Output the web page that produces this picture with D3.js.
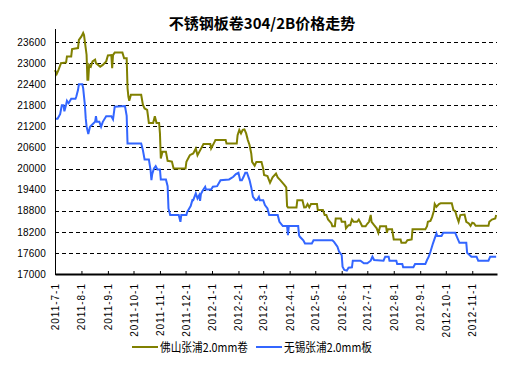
<!DOCTYPE html>
<html>
<head>
<meta charset="utf-8">
<script src="https://cdn.jsdelivr.net/npm/d3@7"></script>
<style>
  body { margin: 0; background: #fff; }
  svg { display: block; }
  text { font-family: "Liberation Sans", Arial, "Noto Sans CJK SC", sans-serif; fill: #000; }
  .cjk { font-family: "Noto Sans CJK SC", "Liberation Sans", sans-serif; }
</style>
</head>
<body>
<svg width="512" height="366"></svg>
<script>
'use strict';

const chartTitle = '不锈钢板卷304/2B价格走势';
const seriesNames = ['佛山张浦2.0mm卷', '无锡张浦2.0mm板'];
const seriesColors = ['#808000', '#3366ff'];

const yTicks = [17000, 17600, 18200, 18800, 19400, 20000, 20600, 21200, 21800, 22400, 23000, 23600];
const xTicks = [
  '2011-07-01', '2011-08-01', '2011-09-01', '2011-10-01', '2011-11-01', '2011-12-01',
  '2012-01-01', '2012-02-01', '2012-03-01', '2012-04-01', '2012-05-01', '2012-06-01',
  '2012-07-01', '2012-08-01', '2012-09-01', '2012-10-01', '2012-11-01'
];

// 佛山张浦2.0mm卷
const foshan = [
  ['2011-07-01', 22800], ['2011-07-03', 22690], ['2011-07-05', 22800], ['2011-07-08', 23000],
  ['2011-07-14', 23020], ['2011-07-15', 23190], ['2011-07-20', 23190], ['2011-07-21', 23400],
  ['2011-07-28', 23430], ['2011-07-29', 23660], ['2011-08-01', 23760], ['2011-08-03', 23860],
  ['2011-08-04', 23800], ['2011-08-07', 23240], ['2011-08-08', 22525], ['2011-08-09', 22525],
  ['2011-08-10', 22950], ['2011-08-12', 22900], ['2011-08-14', 23050], ['2011-08-17', 23100],
  ['2011-08-18', 23000], ['2011-08-23', 22900], ['2011-08-26', 22950], ['2011-08-30', 23050],
  ['2011-09-01', 23220], ['2011-09-05', 23230], ['2011-09-06', 22860], ['2011-09-07', 23230],
  ['2011-09-09', 23300], ['2011-09-18', 23300], ['2011-09-20', 23140], ['2011-09-23', 23140],
  ['2011-09-24', 22290], ['2011-09-25', 22050], ['2011-09-26', 21930], ['2011-09-28', 22100],
  ['2011-10-10', 22100], ['2011-10-12', 21815], ['2011-10-14', 21710], ['2011-10-17', 21670],
  ['2011-10-18', 21490], ['2011-10-19', 21300], ['2011-10-24', 21300], ['2011-10-26', 21490],
  ['2011-10-28', 21300], ['2011-10-31', 21300], ['2011-11-01', 21000], ['2011-11-02', 20290],
  ['2011-11-04', 20480], ['2011-11-08', 20480], ['2011-11-10', 20220], ['2011-11-15', 20200],
  ['2011-11-17', 20000], ['2011-12-01', 20000], ['2011-12-02', 20195], ['2011-12-06', 20380],
  ['2011-12-10', 20430], ['2011-12-13', 20570], ['2011-12-15', 20380], ['2011-12-19', 20560],
  ['2011-12-22', 20700], ['2011-12-30', 20700], ['2011-12-31', 20570], ['2012-01-04', 20760],
  ['2012-01-05', 20810], ['2012-01-17', 20810], ['2012-01-18', 20715], ['2012-01-30', 20715],
  ['2012-01-31', 20950], ['2012-02-02', 21100], ['2012-02-04', 21000], ['2012-02-06', 21100],
  ['2012-02-08', 21115], ['2012-02-10', 21000], ['2012-02-12', 20810], ['2012-02-14', 20670],
  ['2012-02-16', 20430], ['2012-02-17', 20190], ['2012-02-20', 20080], ['2012-02-22', 20190],
  ['2012-02-28', 20190], ['2012-03-01', 20000], ['2012-03-02', 19815], ['2012-03-06', 19785],
  ['2012-03-09', 19595], ['2012-03-12', 19750], ['2012-03-16', 19860], ['2012-03-18', 19750],
  ['2012-03-21', 19670], ['2012-03-26', 19530], ['2012-03-28', 19465], ['2012-03-29', 18930],
  ['2012-03-30', 18895], ['2012-04-09', 18895], ['2012-04-10', 19100], ['2012-04-16', 19100],
  ['2012-04-18', 18895], ['2012-04-20', 18900], ['2012-04-22', 18990], ['2012-04-24', 18895],
  ['2012-04-26', 18990], ['2012-05-03', 18990], ['2012-05-04', 18820], ['2012-05-10', 18820],
  ['2012-05-12', 18680], ['2012-05-14', 18680], ['2012-05-16', 18550], ['2012-05-20', 18440],
  ['2012-05-21', 18360], ['2012-05-24', 18360], ['2012-05-25', 18580], ['2012-05-31', 18580],
  ['2012-06-01', 18485], ['2012-06-05', 18485], ['2012-06-06', 18300], ['2012-06-09', 18390],
  ['2012-06-11', 18390], ['2012-06-13', 18550], ['2012-06-15', 18485], ['2012-06-19', 18485],
  ['2012-06-21', 18550], ['2012-06-23', 18460], ['2012-06-25', 18360], ['2012-06-29', 18360],
  ['2012-07-01', 18430], ['2012-07-03', 18485], ['2012-07-05', 18680], ['2012-07-06', 18485],
  ['2012-07-09', 18390], ['2012-07-12', 18300], ['2012-07-14', 18170], ['2012-07-16', 18360],
  ['2012-07-23', 18360], ['2012-07-24', 18170], ['2012-07-25', 18270], ['2012-07-30', 18270],
  ['2012-08-01', 17985], ['2012-08-09', 17985], ['2012-08-10', 17890], ['2012-08-15', 17890],
  ['2012-08-17', 17960], ['2012-08-22', 17985], ['2012-08-23', 18270], ['2012-09-07', 18270],
  ['2012-09-09', 18360], ['2012-09-10', 18485], ['2012-09-13', 18510], ['2012-09-15', 18625],
  ['2012-09-17', 18795], ['2012-09-18', 18990], ['2012-09-20', 18910], ['2012-09-23', 18990],
  ['2012-09-25', 19010], ['2012-10-08', 19010], ['2012-10-10', 18815], ['2012-10-12', 18795],
  ['2012-10-14', 18620], ['2012-10-16', 18485], ['2012-10-18', 18676], ['2012-10-23', 18690],
  ['2012-10-25', 18485], ['2012-10-28', 18440], ['2012-10-30', 18370], ['2012-11-01', 18460],
  ['2012-11-03', 18440], ['2012-11-05', 18370], ['2012-11-20', 18370], ['2012-11-21', 18485],
  ['2012-11-24', 18550], ['2012-11-28', 18580], ['2012-11-29', 18680]
];

// 无锡张浦2.0mm板
const wuxi = [
  ['2011-07-01', 21415], ['2011-07-04', 21415], ['2011-07-07', 21550], ['2011-07-09', 21800],
  ['2011-07-11', 21800], ['2011-07-12', 21630], ['2011-07-14', 21815], ['2011-07-15', 21930],
  ['2011-07-17', 21860], ['2011-07-18', 21900], ['2011-07-20', 21985], ['2011-07-25', 21985],
  ['2011-07-26', 22050], ['2011-07-28', 22240], ['2011-07-29', 22400], ['2011-08-02', 22400],
  ['2011-08-03', 22290], ['2011-08-05', 21815], ['2011-08-06', 21435], ['2011-08-07', 21200],
  ['2011-08-09', 20980], ['2011-08-11', 21190], ['2011-08-17', 21330], ['2011-08-18', 21490],
  ['2011-08-19', 21330], ['2011-08-22', 21330], ['2011-08-24', 21190], ['2011-08-26', 21330],
  ['2011-08-30', 21490], ['2011-09-05', 21490], ['2011-09-07', 21400], ['2011-09-09', 21760],
  ['2011-09-21', 21780], ['2011-09-23', 21500], ['2011-09-24', 20715], ['2011-10-10', 20715],
  ['2011-10-12', 20525], ['2011-10-14', 20260], ['2011-10-19', 20260], ['2011-10-21', 19956],
  ['2011-10-22', 19672], ['2011-10-23', 19850], ['2011-10-25', 20004], ['2011-10-27', 20070],
  ['2011-10-29', 19974], ['2011-11-01', 19974], ['2011-11-02', 19690], ['2011-11-08', 19690],
  ['2011-11-10', 19500], ['2011-11-11', 18866], ['2011-11-13', 18676], ['2011-11-23', 18676],
  ['2011-11-25', 18485], ['2011-11-26', 18676], ['2011-12-02', 18676], ['2011-12-03', 18770],
  ['2011-12-07', 18932], ['2011-12-09', 19102], ['2011-12-10', 19100], ['2011-12-13', 19293],
  ['2011-12-15', 19150], ['2011-12-17', 19245], ['2011-12-18', 19083], ['2011-12-19', 19273],
  ['2011-12-21', 19370], ['2011-12-24', 19482], ['2011-12-25', 19406], ['2011-12-31', 19406],
  ['2012-01-02', 19482], ['2012-01-07', 19500], ['2012-01-11', 19671], ['2012-01-21', 19690],
  ['2012-01-26', 19766], ['2012-01-29', 19842], ['2012-02-01', 19880], ['2012-02-03', 19671],
  ['2012-02-05', 19671], ['2012-02-07', 19766], ['2012-02-09', 19880], ['2012-02-11', 19880],
  ['2012-02-14', 19671], ['2012-02-16', 19464], ['2012-02-18', 19196], ['2012-02-21', 19102],
  ['2012-02-23', 19110], ['2012-02-25', 19196], ['2012-02-26', 19102], ['2012-03-01', 19102],
  ['2012-03-03', 18960], ['2012-03-06', 18866], ['2012-03-08', 18676], ['2012-03-18', 18676],
  ['2012-03-20', 18485], ['2012-03-24', 18363], ['2012-03-29', 18363], ['2012-03-30', 18107],
  ['2012-03-31', 18363], ['2012-04-11', 18363], ['2012-04-12', 18107], ['2012-04-13', 18059],
  ['2012-04-17', 17961], ['2012-04-19', 17867], ['2012-04-27', 17867], ['2012-04-29', 17961],
  ['2012-05-21', 17961], ['2012-05-23', 17915], ['2012-05-27', 17776], ['2012-05-29', 17634],
  ['2012-06-01', 17540], ['2012-06-02', 17208], ['2012-06-04', 17114], ['2012-06-07', 17094],
  ['2012-06-09', 17180], ['2012-06-13', 17190], ['2012-06-14', 17378], ['2012-06-23', 17378],
  ['2012-06-27', 17304], ['2012-07-01', 17304], ['2012-07-05', 17378], ['2012-07-07', 17492],
  ['2012-07-09', 17398], ['2012-07-20', 17378], ['2012-07-22', 17492], ['2012-07-26', 17492],
  ['2012-07-27', 17378], ['2012-08-04', 17378], ['2012-08-05', 17284], ['2012-08-11', 17284],
  ['2012-08-12', 17190], ['2012-08-24', 17190], ['2012-08-26', 17284], ['2012-09-07', 17284],
  ['2012-09-09', 17398], ['2012-09-11', 17492], ['2012-09-13', 17634], ['2012-09-16', 17873],
  ['2012-09-20', 18157], ['2012-09-21', 18080], ['2012-09-26', 18080], ['2012-09-28', 18172],
  ['2012-10-12', 18172], ['2012-10-14', 18059], ['2012-10-17', 17887], ['2012-10-25', 17887],
  ['2012-10-26', 17603], ['2012-10-31', 17492], ['2012-11-06', 17492], ['2012-11-08', 17378],
  ['2012-11-20', 17378], ['2012-11-22', 17492], ['2012-11-29', 17492]
];


class Chart {
  w = 512;
  h = 366;
  margin = { top: 28, right: 15, bottom: 92, left: 55 };
  xEnd = '2012-11-30';
  yMax = 24000;

  constructor() {
    this.parse = d3.timeParse('%Y-%m-%d');
    this.svg = d3.select('svg');

    const m = this.margin;
    this.x = d3.scaleUtc()
      .domain([this.parse(xTicks[0]), this.parse(this.xEnd)])
      .range([m.left, this.w - m.right]);
    this.y = d3.scaleLinear()
      .domain([yTicks[0], this.yMax])
      .range([this.h - m.bottom, m.top]);

    this.drawGrid();
    this.drawLines();
    this.drawAxes();
    this.drawTitle();
    this.drawLegend();
  }


  /*
   * Dashed horizontal grid at every y tick but the bottom one.
   */
  drawGrid() {
    const self = this;
    const [x0, x1] = self.x.range();

    self.svg.append('g')
      .attr('class', 'grid')
      .selectAll('line')
      .data(yTicks.slice(1))
      .enter()
      .append('line')
      .attr('x1', x0)
      .attr('x2', x1)
      .attr('y1', d => Math.round(self.y(d)) + 0.5)
      .attr('y2', d => Math.round(self.y(d)) + 0.5)
      .attr('stroke', '#000')
      .attr('stroke-dasharray', '4,3')
      .attr('shape-rendering', 'crispEdges')
      ;
  }


  drawLines() {
    const self = this;

    const line = d3.line()
      .x(d => self.x(self.parse(d[0])))
      .y(d => self.y(d[1]));

    self.svg.append('g')
      .attr('class', 'series')
      .selectAll('path')
      .data([foshan, wuxi])
      .enter()
      .append('path')
      .attr('d', line)
      .attr('fill', 'none')
      .attr('stroke', (d, i) => seriesColors[i])
      .attr('stroke-width', 2)
      .attr('stroke-linejoin', 'miter')
      ;
  }


  drawAxes() {
    const self = this;
    const m = self.margin;
    const fmt = d3.utcFormat('%Y-%-m-%-d');

    const xAxis = self.svg.append('g')
      .attr('transform', `translate(0, ${self.h - m.bottom})`)
      .call(d3.axisBottom(self.x)
        .tickValues(xTicks.map(self.parse))
        .tickFormat(fmt)
        .tickSize(-3)
        .tickSizeOuter(0))
      ;

    xAxis.select('.domain')
      .attr('stroke-width', 2);

    xAxis.selectAll('.tick line')
      .attr('stroke', '#000');

    xAxis.selectAll('.tick text')
      .attr('transform', 'rotate(-90)')
      .attr('text-anchor', 'end')
      .attr('x', -9)
      .attr('y', 0)
      .attr('dy', '0.35em')
      .attr('font-size', 10)
      .attr('letter-spacing', 1)
      .attr('font-family', null)
      ;

    const yAxis = self.svg.append('g')
      .attr('transform', `translate(${m.left}, 0)`)
      .call(d3.axisLeft(self.y)
        .tickValues(yTicks)
        .tickFormat(d3.format('d'))
        .tickSize(0)
        .tickPadding(9))
      ;

    yAxis.select('.domain')
      .attr('shape-rendering', 'crispEdges');

    yAxis.selectAll('.tick text')
      .attr('font-size', 10)
      .attr('letter-spacing', 0.2)
      .attr('font-family', null)
      ;
  }


  drawTitle() {
    this.svg.append('text')
      .attr('class', 'cjk')
      .attr('x', 262)
      .attr('y', 29)
      .attr('text-anchor', 'middle')
      .attr('font-size', 15)
      .attr('font-weight', 'bold')
      .text(chartTitle);
  }


  drawLegend() {
    const self = this;
    const spots = [132, 256];

    const item = self.svg.append('g')
      .attr('class', 'legend')
      .selectAll('g')
      .data(seriesNames)
      .enter()
      .append('g')
      .attr('transform', (d, i) => `translate(${spots[i]}, 347)`)
      ;

    item.append('line')
      .attr('x1', 0)
      .attr('x2', 26)
      .attr('stroke', (d, i) => seriesColors[i])
      .attr('stroke-width', 2);

    // The original squeezes the latin part, so fit each label to its width.
    item.append('text')
      .attr('class', 'cjk')
      .attr('x', 28)
      .attr('y', 5)
      .attr('font-size', 12)
      .attr('textLength', 88)
      .attr('lengthAdjust', 'spacingAndGlyphs')
      .text(d => d);
  }

}

const chart = new Chart();
</script>
</body>
</html>
